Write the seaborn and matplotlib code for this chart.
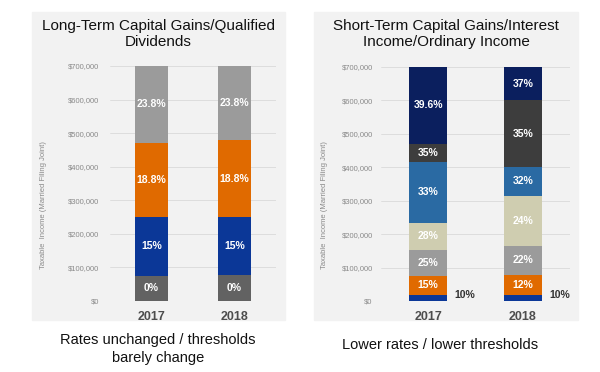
import seaborn as sns
import pandas as pd
import matplotlib.pyplot as plt
from matplotlib.patches import Rectangle
from matplotlib.ticker import FuncFormatter

years = ['2017', '2018']

# long-term capital gains brackets (upper bound of each band)
lt_rates_2017 = ['0%', '15%', '18.8%', '23.8%']
lt_tops_2017 = [75900, 250000, 470700, 700000]
lt_rates_2018 = ['0%', '15%', '18.8%', '23.8%']
lt_tops_2018 = [77200, 250000, 479000, 700000]
lt_colors = ['#626262', '#0b3797', '#e06a00', '#9b9b9b']

# ordinary income brackets
st_rates_2017 = ['10%', '15%', '25%', '28%', '33%', '35%', '39.6%']
st_tops_2017 = [18650, 75900, 153100, 233350, 416700, 470700, 700000]
st_rates_2018 = ['10%', '12%', '22%', '24%', '32%', '35%', '37%']
st_tops_2018 = [19050, 77400, 165000, 315000, 400000, 600000, 700000]
st_colors = ['#0b3797', '#e06a00', '#9b9b9b', '#cfcdb0', '#2a6aa3', '#3d3d3d', '#0b1f5e']

sns.set_theme(style='white')
plt.rcParams['font.family'] = ['Liberation Sans', 'DejaVu Sans']

fig = plt.figure(figsize=(6, 3.72), dpi=100)
W, H = 600, 372


def px(x0, y0, x1, y1):
    return [x0 / W, 1 - y1 / H, (x1 - x0) / W, (y1 - y0) / H]


# panel backgrounds
for x0, x1 in [(32, 285), (314, 578)]:
    fig.patches.append(Rectangle((x0 / W, 1 - 320 / H), (x1 - x0) / W, 308 / H,
                                 transform=fig.transFigure, color='#f2f2f2', zorder=-5))


def draw_panel(ax, rates, tops, colors, outside_first=False):
    ax.set_facecolor('none')
    n = len(colors)
    # draw from the tallest band down so each shorter bar covers the lower part
    for i in range(n - 1, -1, -1):
        df = pd.DataFrame({'year': years, 'top': [tops[0][i], tops[1][i]]})
        sns.barplot(data=df, x='year', y='top', color=colors[i], width=0.4,
                    saturation=1, ax=ax, zorder=3, linewidth=0, edgecolor='none')
    for j in range(2):
        bottoms = [0] + tops[j][:-1]
        for i in range(n):
            mid = (bottoms[i] + tops[j][i]) / 2
            if outside_first and i == 0:
                ax.text(j + 0.39, 18000, rates[j][i], ha='center', va='center',
                        color='#333333', fontsize=7.5, fontweight='bold', zorder=5)
            else:
                ax.text(j, mid, rates[j][i], ha='center', va='center',
                        color='white', fontsize=7.5, fontweight='bold', zorder=5)
    ax.set_xlim(-0.5, 1.5)
    ax.set_ylim(0, 700000)
    ax.set_yticks(range(0, 700001, 100000))
    ax.yaxis.set_major_formatter(FuncFormatter(lambda v, p: f'${v:,.0f}'))
    ax.grid(axis='y', color='#dadada', linewidth=0.6, zorder=0)
    ax.set_axisbelow(True)
    for s in ax.spines.values():
        s.set_visible(False)
    ax.tick_params(axis='y', length=0, labelsize=5.5, labelcolor='#8a8a8a')
    ax.tick_params(axis='x', length=0, labelsize=9, labelcolor='#4d4d4d', pad=7)
    for t in ax.get_xticklabels():
        t.set_fontweight('bold')
    ax.set_xlabel('')
    ax.set_ylabel('Taxable  Income (Married Filing Joint)', fontsize=5.5, color='#8a8a8a')


ax1 = fig.add_axes(px(110, 66, 276, 301))
draw_panel(ax1, [lt_rates_2017, lt_rates_2018], [lt_tops_2017, lt_tops_2018], lt_colors)
ax1.tick_params(axis='y', pad=8)
ax1.yaxis.set_label_coords(-0.38, 0.41)

ax2 = fig.add_axes(px(381, 67, 570, 301))
draw_panel(ax2, [st_rates_2017, st_rates_2018], [st_tops_2017, st_tops_2018], st_colors,
           outside_first=True)
ax2.tick_params(axis='y', pad=6)
ax2.yaxis.set_label_coords(-0.28, 0.41)

fig.text(158.5 / W, 1 - 34 / H, 'Long-Term Capital Gains/Qualified\nDividends',
         ha='center', va='center', fontsize=11, color='#111111', linespacing=1.2)
fig.text(446 / W, 1 - 34 / H, 'Short-Term Capital Gains/Interest\nIncome/Ordinary Income',
         ha='center', va='center', fontsize=11, color='#111111', linespacing=1.2)
fig.text(158 / W, 1 - 349 / H, 'Rates unchanged / thresholds\nbarely change',
         ha='center', va='center', fontsize=10.5, color='#111111', linespacing=1.3)
fig.text(440 / W, 1 - 345 / H, 'Lower rates / lower thresholds',
         ha='center', va='center', fontsize=10.5, color='#111111')

fig.savefig('out.png', dpi=100)
